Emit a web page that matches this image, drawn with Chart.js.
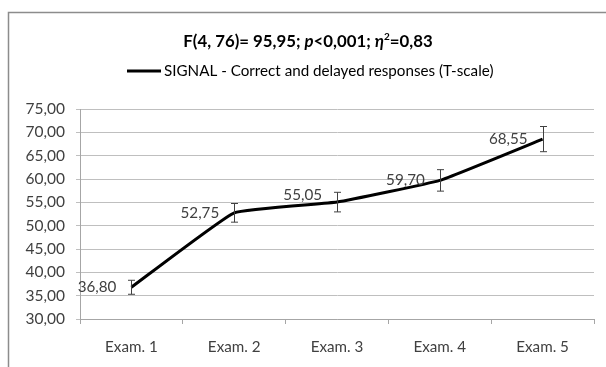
<!DOCTYPE html>
<html>
<head>
<meta charset="utf-8">
<script src="https://cdn.jsdelivr.net/npm/chart.js@4"></script>
<style>
  html, body { margin: 0; padding: 0; background: #fff; }
  #wrap { position: relative; width: 606px; height: 367px; }
</style>
</head>
<body>
<div id="wrap"><canvas id="chart" width="606" height="367"></canvas></div>
<script>
const categories = ['Exam. 1', 'Exam. 2', 'Exam. 3', 'Exam. 4', 'Exam. 5'];
const signalValues = [36.80, 52.75, 55.05, 59.70, 68.55];
const errorValues = [1.5, 2.0, 2.1, 2.3, 2.7];
const seriesLabel = 'SIGNAL - Correct and delayed responses (T-scale)';

const FONT = 'Lato, "Open Sans", sans-serif';
const TXT = '#404040';

// frame, title, legend, error bars and value labels
const extras = {
    id: 'extras',
    beforeDraw(chart) {
        const c = chart.ctx;
        c.save();
        c.fillStyle = '#fff';
        c.fillRect(0, 0, chart.width, chart.height);
        c.strokeStyle = '#8c8c8c';
        c.lineWidth = 1.5;
        c.strokeRect(8.5, 12.5, 700, 400);
        c.restore();
    },
    afterDatasetsDraw(chart) {
        const c = chart.ctx;
        const x = chart.scales.x, y = chart.scales.y;
        c.save();

        // title with italic p and eta
        const parts = [
            ['F(4, 76)= 95,95; ', 'bold'],
            ['p', 'italic bold'],
            ['<0,001; ', 'bold'],
            ['η', 'italic bold'],
            ['2', 'sup'],
            ['=0,83', 'bold']
        ];
        const fontFor = s => s === 'sup' ? 'bold 10px ' + FONT : s + ' 16.8px ' + FONT;
        let total = 0;
        parts.forEach(p => { c.font = fontFor(p[1]); total += c.measureText(p[0]).width; });
        let tx = 308 - total / 2;
        c.fillStyle = '#000';
        c.textBaseline = 'middle';
        c.textAlign = 'left';
        parts.forEach(p => {
            c.font = fontFor(p[1]);
            c.fillText(p[0], tx, p[1] === 'sup' ? 37 : 42);
            tx += c.measureText(p[0]).width;
        });

        // legend
        c.strokeStyle = '#000';
        c.lineWidth = 3;
        c.beginPath();
        c.moveTo(127, 71);
        c.lineTo(161, 71);
        c.stroke();
        c.font = '15.2px ' + FONT;
        c.fillStyle = '#000';
        c.fillText(seriesLabel, 164, 71);

        // error bars
        c.strokeStyle = '#404040';
        c.lineWidth = 1;
        signalValues.forEach((v, i) => {
            const px = Math.round(x.getPixelForValue(i)) + 0.5;
            const top = y.getPixelForValue(v + errorValues[i]);
            const bot = y.getPixelForValue(v - errorValues[i]);
            c.beginPath();
            c.moveTo(px, top); c.lineTo(px, bot);
            c.moveTo(px - 3.5, top); c.lineTo(px + 3.5, top);
            c.moveTo(px - 3.5, bot); c.lineTo(px + 3.5, bot);
            c.stroke();
        });

        // value labels
        c.font = '15.2px ' + FONT;
        c.fillStyle = TXT;
        c.textAlign = 'right';
        c.textBaseline = 'middle';
        signalValues.forEach((v, i) => {
            const px = x.getPixelForValue(i);
            const py = y.getPixelForValue(v);
            c.fillText(v.toFixed(2).replace('.', ','), px - 15, py + (i === 2 ? -7 : 0));
        });
        c.restore();
    }
};

new Chart(document.getElementById('chart'), {
    type: 'line',
    data: {
        labels: categories,
        datasets: [{
            label: seriesLabel,
            data: signalValues,
            borderColor: '#000',
            borderWidth: 3,
            pointRadius: 0,
            tension: 0.1,
            fill: false
        }]
    },
    options: {
        responsive: false,
        animation: false,
        layout: { padding: { left: 0, top: 109, right: 12, bottom: 0 } },
        plugins: {
            legend: { display: false },
            title: { display: false },
            tooltip: { enabled: false }
        },
        scales: {
            x: {
                offset: true,
                grid: { offset: true, display: true, drawOnChartArea: false, color: '#a6a6a6', tickLength: 5 },
                border: { color: '#a6a6a6' },
                ticks: { color: TXT, font: { family: FONT, size: 15.2 }, padding: 14 },
                afterFit(s) { s.height = 48; }
            },
            y: {
                min: 30,
                max: 75,
                grid: { color: '#bfbfbf', tickLength: 4 },
                border: { color: '#a6a6a6' },
                ticks: {
                    stepSize: 5,
                    color: TXT,
                    font: { family: FONT, size: 15.5 },
                    padding: 11,
                    callback: v => v.toFixed(2).replace('.', ',')
                },
                afterFit(s) { s.width = 80; }
            }
        }
    },
    plugins: [extras]
});
</script>
</body>
</html>
